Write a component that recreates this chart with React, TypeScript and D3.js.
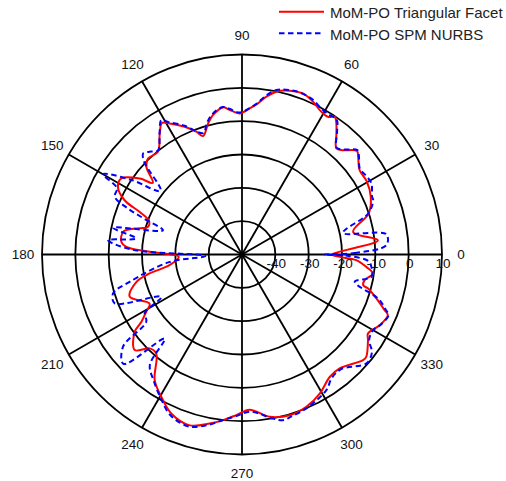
import React from 'react';
import * as d3 from 'd3';

// angle in degrees (counter-clockwise from 0), level in dB
const facetDeg = [0, 6, 11.5, 18, 24, 30.5, 35.6, 40, 42, 46, 48.3, 52, 54.2, 56, 58, 61, 65.8, 69.3, 73.7, 77, 81.2, 84, 87, 91, 95, 97.4, 101.8, 104.5, 108.2, 110.4, 114.2, 118.9, 121.3, 124.2, 129.3, 134.4, 137.5, 141.2, 143.4, 147.8, 151.4, 155.2, 157.5, 160, 163.6, 166.4, 169.2, 174, 176.2, 178.3, 182, 188.4, 191.6, 194.5, 200.6, 208, 210.9, 213.8, 215.8, 221.7, 225.5, 229.1, 235.2, 240.5, 246, 253, 259.2, 263.5, 268, 272.8, 279.7, 286.5, 292.9, 299.2, 305.6, 310.6, 318.9, 320.5, 325.8, 327.9, 332.8, 337.4, 338.7, 341.9, 344.9, 345.8, 348.2, 351.7, 354.3, 357.2, 358.6];
const facetDb = [-23, -9, -16, -10, -7.7, -6.6, -6.6, -4.5, -3.6, -6.5, -7.4, -4, -1.6, -0.2, -1.3, -1, 0.8, 1.65, 1.2, 0.4, -2.1, -4.4, -6.1, -7.7, -6.4, -5.5, -7.3, -9.4, -12.6, -10.7, -8, -5.1, -3.8, -6.1, -10.2, -9.7, -11.1, -15.7, -11.8, -7.2, -7.6, -11.2, -17, -20.3, -20.6, -16.9, -13.7, -13.6, -15.2, -22.3, -31, -28, -21.7, -17.3, -14, -18.6, -16.5, -13.7, -10.3, -6.9, -10.5, -10.7, -4.1, -0.9, 2.2, 3.6, 1.6, 0, -1.8, -3.4, -0.6, 0.3, -0.4, -2.2, -4.8, -5, -1.8, -1.7, -4.3, -5.4, -3.6, -2.6, -4.1, -7.6, -10.8, -12.5, -12.4, -10.3, -12.5, -15.7, -20.7];

const nurbsDeg = [0, 0.8, 3.7, 8, 12.1, 18, 22.5, 24, 28.8, 33, 36, 40, 42, 46, 48.5, 52, 55, 58, 61, 66, 71, 75, 78.2, 81.5, 84, 87, 91, 95, 97.5, 102, 105, 107.5, 110.5, 114, 119, 121, 124, 129, 132, 134.4, 136.5, 142, 146, 150, 152, 155.6, 158, 160, 163, 168.3, 171.4, 173.9, 177.5, 182.5, 186, 193.7, 196.8, 201, 207.7, 211, 215.1, 217.8, 222.7, 227.4, 230.2, 235, 240.5, 246, 253, 259, 263.5, 268, 273, 280.7, 283.9, 287, 293, 301.9, 306, 311, 318.8, 323, 326, 330, 333, 337.4, 339, 342, 346.4, 350.2, 354.5, 357, 359.2];
const nurbsDb = [-25.5, -16.2, -6.6, -6.3, -19, -10.2, -7.4, -7.3, -5.7, -6, -6.3, -4.2, -3.3, -6.2, -7.2, -3.7, -0.5, -0.6, -0.3, 1.2, 1.6, 1.2, 0.4, -1.9, -4.2, -6, -7.4, -6.1, -5.4, -7, -9.2, -11.8, -10.5, -7.7, -4.6, -3, -5.8, -9.9, -8.5, -7.6, -9.5, -19, -10, -1.8, -7.5, -8.1, -13, -19, -25.2, -10.5, -17.9, -9.6, -17, -39, -28, -15.3, -9.6, -9.1, -22.7, -16, -14.9, -4.8, -1.6, -15.7, -6.8, -3.8, -0.5, 2.8, 4, 2, 0, -1.5, -2.8, 0.1, 1.2, 0.8, 0, -2.1, -4.2, -4.5, -0.4, -1.2, -4, -4.6, -3.4, -2.4, -3.8, -7, -15.2, -10.6, -11, -12, -18];

const rings = [-40, -30, -20, -10, 0, 10];
const spokeDeg = [0, 30, 60, 90, 120, 150, 180, 210, 240, 270, 300, 330];
const spokeLabels = ['0', '30', '60', '90', '120', '150', '180', '210', '240', '270', '300', '330'];
const seriesNames = ['MoM-PO Triangular Facet', 'MoM-PO SPM NURBS'];

const W = 506;
const H = 481;
const cx = 242;
const cy = 254.5;
const font = 'Arial, "Liberation Sans", sans-serif';

const rad = (d: number) => (d * Math.PI) / 180;

export default function App() {
  const r = d3.scaleLinear().domain([-50, 10]).range([0, 200]);
  const outer = r(10);

  const makeLine = (deg: number[], db: number[]) =>
    d3
      .lineRadial<number>()
      .angle((i) => rad(90 - deg[i]))
      .radius((i) => r(db[i]))
      .curve(d3.curveCatmullRomClosed.alpha(0.5))(d3.range(deg.length)) || '';

  const redPath = makeLine(facetDeg, facetDb);
  const bluePath = makeLine(nurbsDeg, nurbsDb);

  return (
    <svg
      width={W}
      height={H}
      style={{ position: 'absolute', left: 0, top: 0, background: '#fff' }}
      fontFamily={font}
    >
      <g transform={`translate(${cx},${cy})`}>
        {rings.map((v) => (
          <circle key={v} r={r(v)} fill="none" stroke="#000" strokeWidth={1.8} />
        ))}
        {spokeDeg.map((d) => (
          <line
            key={d}
            x1={0}
            y1={0}
            x2={outer * Math.cos(rad(d))}
            y2={-outer * Math.sin(rad(d))}
            stroke="#000"
            strokeWidth={1.8}
          />
        ))}
        <path d={redPath} fill="none" stroke="#ff0000" strokeWidth={2} strokeLinejoin="round" />
        <path d={bluePath} fill="none" stroke="#0000ff" strokeWidth={2} strokeDasharray="5.5,3.5" />
        {rings.map((v) => (
          <text key={v} x={r(v) + 1} y={9} fontSize={13.5} textAnchor="middle" dominantBaseline="central" fill="#111">
            {v}
          </text>
        ))}
        {spokeDeg.map((d, i) => (
          <text
            key={d}
            x={219 * Math.cos(rad(d))}
            y={-219 * Math.sin(rad(d))}
            fontSize={13.5}
            textAnchor="middle"
            dominantBaseline="central"
            fill="#111"
          >
            {spokeLabels[i]}
          </text>
        ))}
      </g>
      <g>
        <line x1={279} x2={324} y1={11.7} y2={11.7} stroke="#ff0000" strokeWidth={2} />
        <line x1={279} x2={324} y1={33.3} y2={33.3} stroke="#0000ff" strokeWidth={2} strokeDasharray="5.5,3.5" />
        <text x={330} y={12.5} fontSize={15} dominantBaseline="central" fill="#222">
          {seriesNames[0]}
        </text>
        <text x={330} y={34} fontSize={15} dominantBaseline="central" fill="#222">
          {seriesNames[1]}
        </text>
      </g>
    </svg>
  );
}
